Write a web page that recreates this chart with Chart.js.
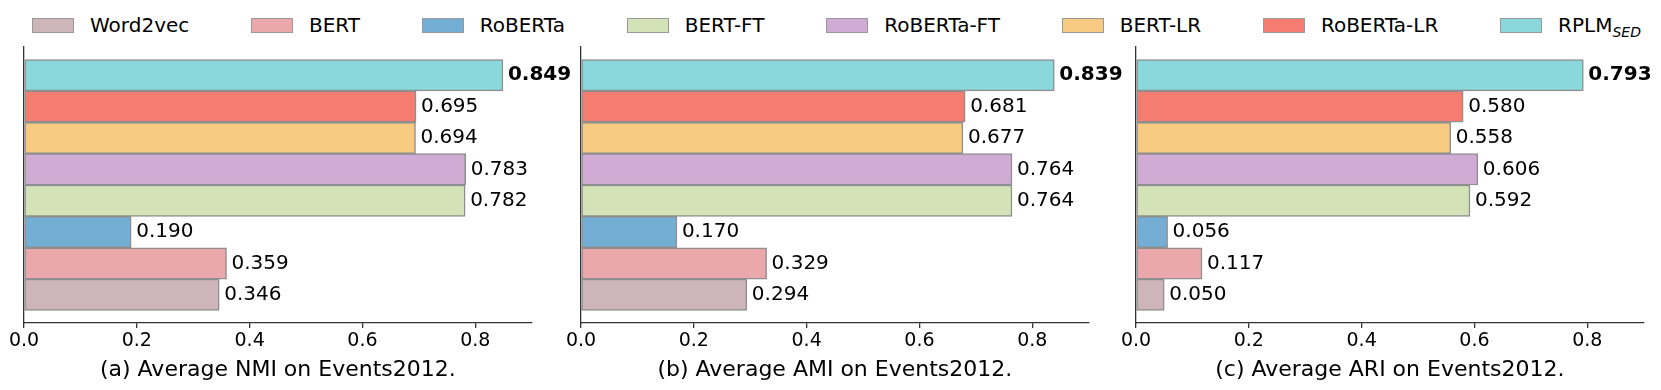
<!DOCTYPE html>
<html>
<head>
<meta charset="utf-8">
<title>Events2012 clustering results</title>
<script src="https://cdn.jsdelivr.net/npm/chart.js@4.4.0/dist/chart.umd.min.js"></script>
<style>
    body {
        margin: 0;
        width: 1661px;
        height: 390px;
        overflow: hidden;
        position: relative;
        background: #fff;
        font-family: "DejaVu Sans", sans-serif;
    }
    #legend {
        position: absolute;
        left: 32px;
        width: 1609px;
        top: 15px;
        height: 20px;
        display: flex;
        align-items: center;
        justify-content: space-between;
    }
    .item {
        display: flex;
        align-items: center;
        font-size: 20px;
        line-height: 20px;
        white-space: nowrap;
        color: #000;
    }
    .swatch {
        width: 42px;
        height: 15px;
        box-sizing: border-box;
        border: 1.3px solid #999;
        margin-right: 16px;
    }
    .item sub {
        font-size: 14px;
        font-style: italic;
        vertical-align: -5px;
        line-height: 0;
    }
    canvas.panel {
        position: absolute;
        top: 40px;
    }
</style>
</head>
<body>
<div id="legend"></div>
<canvas class="panel" id="nmiChart" width="600" height="350" style="left:0px"></canvas>
<canvas class="panel" id="amiChart" width="600" height="350" style="left:557px"></canvas>
<canvas class="panel" id="ariChart" width="549" height="350" style="left:1112px"></canvas>

<script>
// methods, bottom bar first
const methods = ['Word2vec', 'BERT', 'RoBERTa', 'BERT-FT', 'RoBERTa-FT', 'BERT-LR', 'RoBERTa-LR', 'RPLM_SED'];
const colors = ['#cdb5b9', '#eba8aa', '#75aed4', '#d4e3b7', '#d0acd5', '#f6ca80', '#f47c70', '#8ad8dc'];

const nmiValues = [0.346, 0.359, 0.190, 0.782, 0.783, 0.694, 0.695, 0.849];
const amiValues = [0.294, 0.329, 0.170, 0.764, 0.764, 0.677, 0.681, 0.839];
const ariValues = [0.050, 0.117, 0.056, 0.592, 0.606, 0.558, 0.580, 0.793];

const titles = ['(a) Average NMI on Events2012.', '(b) Average AMI on Events2012.', '(c) Average ARI on Events2012.'];
const xTicks = [0, 0.2, 0.4, 0.6, 0.8];

// shared legend on top
const legend = document.getElementById('legend');
methods.forEach((name, i) => {
    const item = document.createElement('div');
    item.className = 'item';
    const sw = document.createElement('span');
    sw.className = 'swatch';
    sw.style.background = colors[i];
    item.appendChild(sw);
    const label = document.createElement('span');
    if (name.includes('_')) {
        const [base, sub] = name.split('_');
        label.innerHTML = base + '<sub>' + sub + '</sub>';
    } else {
        label.textContent = name;
    }
    item.appendChild(label);
    legend.appendChild(item);
});

// write the value next to each bar, best one in bold
const valueLabels = {
    id: 'valueLabels',
    afterDatasetsDraw(chart) {
        const ctx = chart.ctx;
        const values = chart.data.datasets[0].data.map(d => d.x);
        const best = Math.max(...values);
        chart.getDatasetMeta(0).data.forEach((bar, i) => {
            ctx.save();
            ctx.font = (values[i] === best ? 'bold ' : '') + '20px "DejaVu Sans"';
            ctx.fillStyle = '#000';
            ctx.textAlign = 'left';
            ctx.textBaseline = 'middle';
            ctx.fillText(values[i].toFixed(3), bar.x + 5, bar.y);
            ctx.restore();
        });
    }
};

function makeChart(id, values, title) {
    const canvas = document.getElementById(id);
    const ctx = canvas.getContext('2d');
    return new Chart(ctx, {
        type: 'bar',
        data: {
            datasets: [{
                data: values.map((v, i) => ({ x: v, y: i })),
                backgroundColor: colors,
                borderColor: '#8e8e8e',
                borderWidth: 1.5,
                borderSkipped: false,
                categoryPercentage: 1,
                barPercentage: 1
            }]
        },
        options: {
            indexAxis: 'y',
            responsive: false,
            animation: false,
            layout: {
                padding: { left: 24, right: canvas.width - 24 - 507.7, top: 7, bottom: 0 }
            },
            plugins: {
                legend: { display: false },
                tooltip: { enabled: false }
            },
            scales: {
                x: {
                    type: 'linear',
                    position: 'bottom',
                    min: 0,
                    max: 0.9,
                    afterBuildTicks: s => { s.ticks = xTicks.map(v => ({ value: v })); },
                    afterFit: s => { s.height = 67; },
                    ticks: {
                        color: '#000',
                        padding: 2,
                        font: { family: 'DejaVu Sans', size: 19 },
                        callback: v => v.toFixed(1)
                    },
                    grid: {
                        display: true,
                        drawOnChartArea: false,
                        drawTicks: true,
                        tickLength: 5,
                        color: '#333',
                        lineWidth: 1.3
                    },
                    border: { display: true, color: '#333', width: 1.3 },
                    title: {
                        display: true,
                        text: title,
                        color: '#000',
                        font: { family: 'DejaVu Sans', size: 22 },
                        padding: { top: 0, bottom: 7 }
                    }
                },
                y: {
                    type: 'linear',
                    position: 'left',
                    offset: false,
                    min: -0.9,
                    max: 7.9,
                    afterBuildTicks: s => { s.ticks = methods.map((m, i) => ({ value: i })); },
                    afterFit: s => { s.width = 0; },
                    ticks: { display: false },
                    grid: { display: true, offset: false, drawOnChartArea: false, drawTicks: false },
                    border: { display: true, color: '#333', width: 1.3 }
                }
            }
        },
        plugins: [valueLabels]
    });
}

document.addEventListener('DOMContentLoaded', () => {
    makeChart('nmiChart', nmiValues, titles[0]);
    makeChart('amiChart', amiValues, titles[1]);
    makeChart('ariChart', ariValues, titles[2]);
});
</script>
</body>
</html>
